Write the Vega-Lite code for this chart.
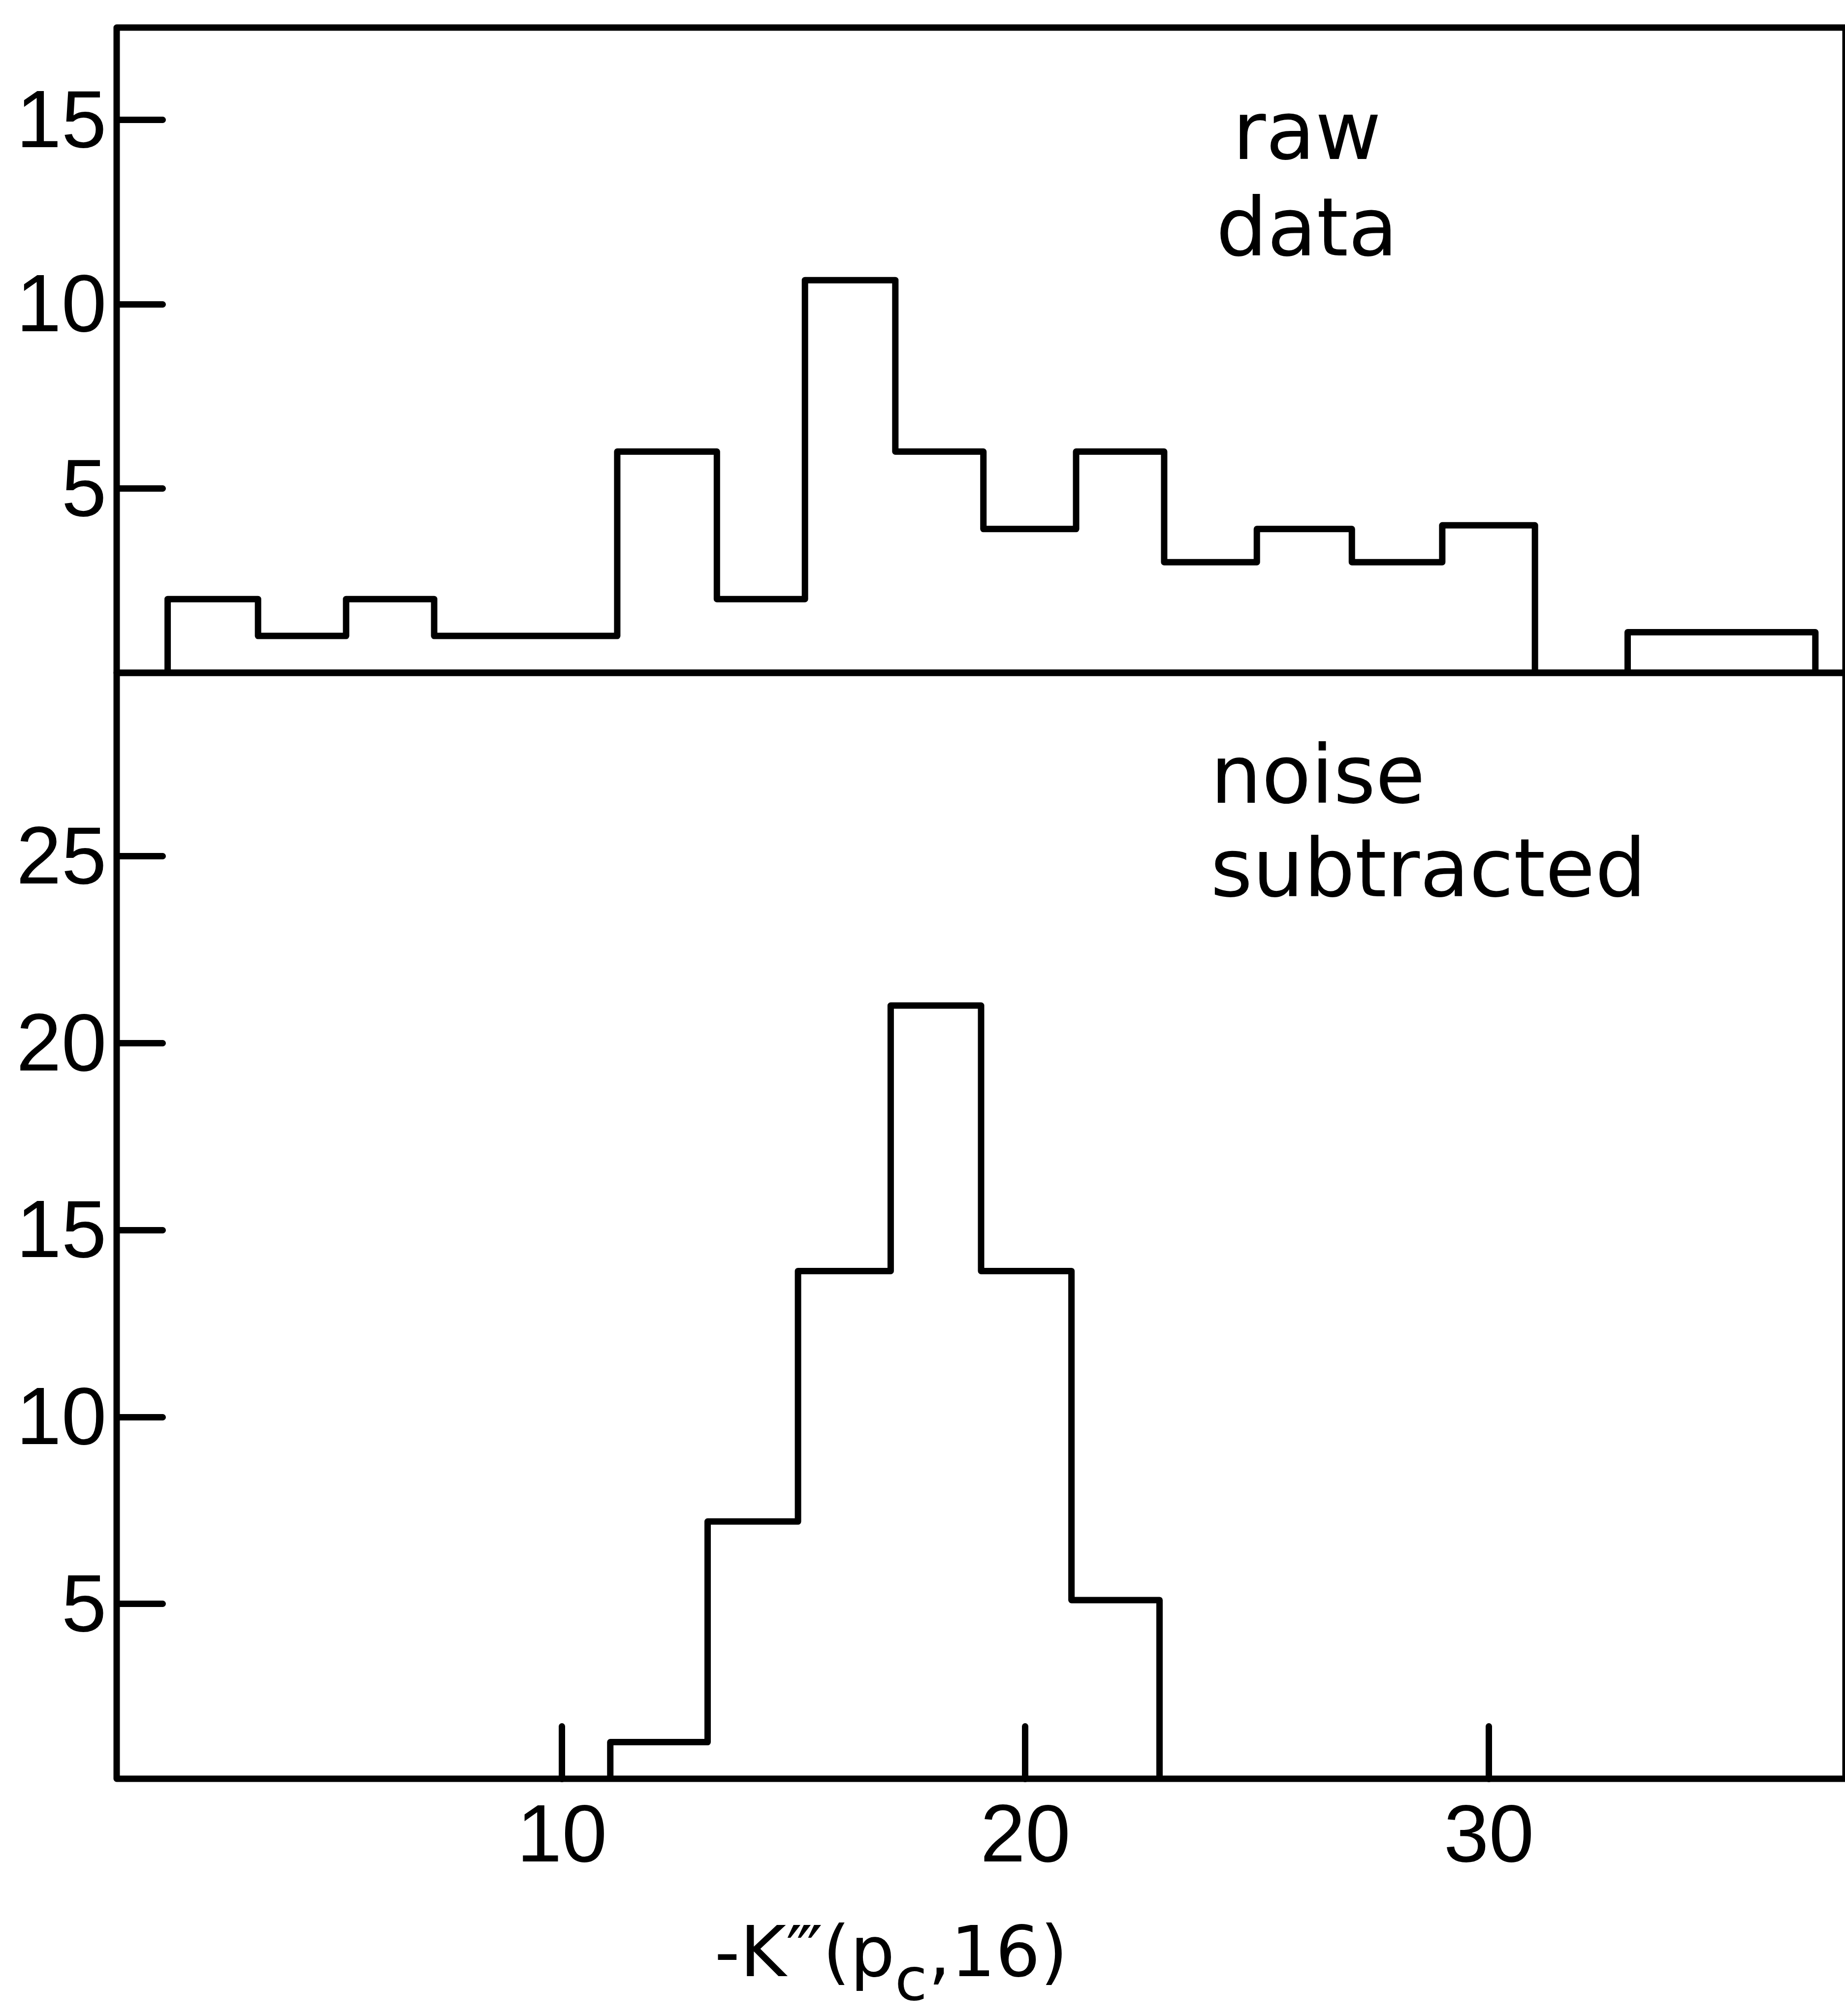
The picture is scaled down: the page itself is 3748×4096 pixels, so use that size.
{
  "$schema": "https://vega.github.io/schema/vega-lite/v6.json",
  "background": "white",
  "autosize": {"type": "pad"},
  "padding": {"left": 25, "top": 49, "right": 0, "bottom": 0},
  "spacing": 0,
  "bounds": "flush",
  "config": {
    "view": {"stroke": "black", "strokeWidth": 13, "strokeJoin": "round"},
    "axis": {
      "grid": false,
      "domain": false,
      "title": null,
      "format": "d",
      "tickColor": "black",
      "tickWidth": 13,
      "tickCap": "round",
      "labelColor": "black",
      "labelFont": "Liberation Sans",
      "labelFontSize": 165,
      "labelLimit": 0
    },
    "text": {"font": "DejaVu Sans", "color": "black"}
  },
  "datasets": {
    "raw": [
      {"lo": 1.5, "count": 2},
      {"lo": 3.45, "count": 1},
      {"lo": 5.35, "count": 2},
      {"lo": 7.25, "count": 1},
      {"lo": 9.25, "count": 1},
      {"lo": 11.2, "count": 6},
      {"lo": 13.35, "count": 2},
      {"lo": 15.25, "count": 10.65},
      {"lo": 17.2, "count": 6},
      {"lo": 19.1, "count": 3.9},
      {"lo": 21.1, "count": 6},
      {"lo": 23.0, "count": 3},
      {"lo": 25.0, "count": 3.9},
      {"lo": 27.05, "count": 3},
      {"lo": 29.0, "count": 4},
      {"lo": 31.0, "count": 0},
      {"lo": 33.0, "count": 1.1},
      {"lo": 35.0, "count": 1.1},
      {"lo": 37.05, "count": 0}
    ],
    "noise": [
      {"lo": 11.05, "count": 1.3},
      {"lo": 13.15, "count": 7.2},
      {"lo": 15.1, "count": 13.9},
      {"lo": 17.1, "count": 21.0},
      {"lo": 19.05, "count": 13.9},
      {"lo": 21.0, "count": 5.1},
      {"lo": 22.9, "count": 0}
    ]
  },
  "vconcat": [
    {
      "width": 3512,
      "height": 1311,
      "layer": [
        {
          "data": {"name": "raw"},
          "mark": {"type": "area", "orient": "vertical", "interpolate": "step-after", "fill": "transparent", "stroke": "black", "strokeWidth": 13, "strokeJoin": "round", "clip": true},
          "encoding": {
            "x": {"field": "lo", "type": "quantitative", "scale": {"domain": [0.4, 37.7], "nice": false, "zero": false}, "axis": null},
            "y": {"field": "count", "type": "quantitative", "scale": {"domain": [0, 17.5], "nice": false}, "axis": {"values": [5, 10, 15], "tickSize": -93, "labelPadding": 114, "labelOffset": 5}}
          }
        },
        {
          "data": {"values": [{}]},
          "mark": {"type": "text", "align": "center", "baseline": "alphabetic", "fontSize": 164, "lineHeight": 196},
          "encoding": {
            "x": {"datum": 26.08, "type": "quantitative"},
            "y": {"datum": 13.94, "type": "quantitative"},
            "text": {"value": ["raw", "data"]}
          }
        }
      ]
    },
    {
      "width": 3512,
      "height": 2247,
      "layer": [
        {
          "data": {"name": "noise"},
          "mark": {"type": "area", "orient": "vertical", "interpolate": "step-after", "fill": "transparent", "stroke": "black", "strokeWidth": 13, "strokeJoin": "round", "clip": true},
          "encoding": {
            "x": {"field": "lo", "type": "quantitative", "scale": {"domain": [0.4, 37.7], "nice": false, "zero": false}, "axis": {"values": [10, 20, 30], "tickSize": -107, "labelPadding": 144}},
            "y": {"field": "count", "type": "quantitative", "scale": {"domain": [0.32, 29.9], "nice": false, "zero": false}, "axis": {"values": [5, 10, 15, 20, 25], "tickSize": -93, "labelPadding": 114, "labelOffset": 5}}
          }
        },
        {
          "data": {"values": [{}]},
          "mark": {"type": "text", "align": "left", "baseline": "alphabetic", "fontSize": 164, "lineHeight": 190},
          "encoding": {
            "x": {"datum": 24.0, "type": "quantitative"},
            "y": {"datum": 26.42, "type": "quantitative"},
            "text": {"value": ["noise", "subtracted"]}
          }
        },
        {
          "data": {"values": [{}]},
          "mark": {"type": "text", "align": "right", "baseline": "alphabetic", "fontSize": 143},
          "encoding": {
            "x": {"datum": 17.19, "type": "quantitative"},
            "y": {"datum": -4.96, "type": "quantitative"},
            "text": {"value": "-K‴(p"}
          }
        },
        {
          "data": {"values": [{}]},
          "mark": {"type": "text", "align": "left", "baseline": "alphabetic", "fontSize": 120, "dy": 48},
          "encoding": {
            "x": {"datum": 17.19, "type": "quantitative"},
            "y": {"datum": -4.96, "type": "quantitative"},
            "text": {"value": "c"}
          }
        },
        {
          "data": {"values": [{}]},
          "mark": {"type": "text", "align": "left", "baseline": "alphabetic", "fontSize": 143, "dx": 68},
          "encoding": {
            "x": {"datum": 17.19, "type": "quantitative"},
            "y": {"datum": -4.96, "type": "quantitative"},
            "text": {"value": ",16)"}
          }
        }
      ]
    }
  ]
}
